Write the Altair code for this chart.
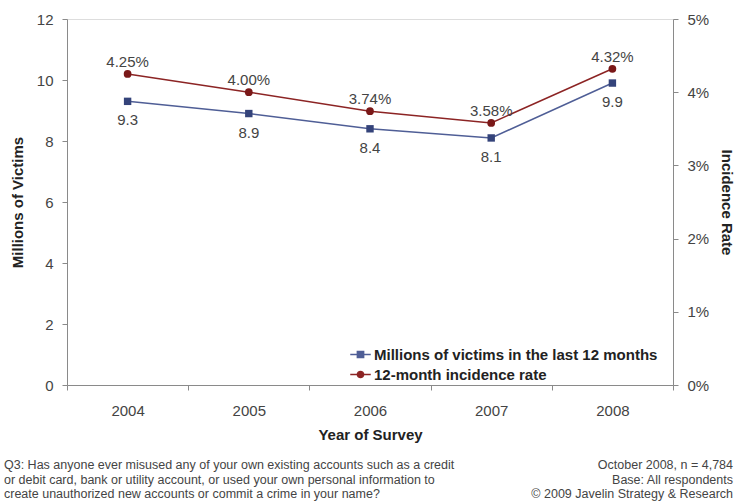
import altair as alt
import pandas as pd

# Survey years and the two series
years = ["2004", "2005", "2006", "2007", "2008"]
victims_millions = [9.3, 8.9, 8.4, 8.1, 9.9]
incidence_rate = [4.25, 4.00, 3.74, 3.58, 4.32]

series_names = ["Millions of victims in the last 12 months", "12-month incidence rate"]
line_colors = ["#4f5e96", "#8c2424"]
marker_colors = ["#34437a", "#7a1818"]

footnote_left = (
    "Q3: Has anyone ever misused any of your own existing accounts such as a credit\n"
    "or debit card, bank or utility account, or used your own personal information to\n"
    "create unauthorized new accounts or commit a crime in your name?"
)
footnote_right = "October 2008, n = 4,784\nBase: All respondents\n\u00a9 2009 Javelin Strategy & Research"

df = pd.DataFrame({
    "year": years,
    "victims": victims_millions,
    "rate": incidence_rate,
})
df["series_v"] = series_names[0]
df["series_r"] = series_names[1]

FONT = "Liberation Sans"
W, H = 606, 366

x_enc = alt.X(
    "year:N",
    sort=years,
    scale=alt.Scale(type="band", paddingInner=0, paddingOuter=0),
    axis=alt.Axis(
        title="Year of Survey", labelAngle=0, tickBand="extent",
        labelFontSize=15, labelColor="#444", labelPadding=13,
        titleFontSize=15, titleFontWeight="bold", titleColor="#222", titlePadding=9,
        domainColor="#8a8a8a", tickColor="#8a8a8a", tickSize=5,
    ),
)

y_left = alt.Y(
    "victims:Q",
    scale=alt.Scale(domain=[0, 12], nice=False),
    axis=alt.Axis(
        title="Millions of Victims", values=[0, 2, 4, 6, 8, 10, 12], grid=False,
        labelFontSize=15, labelColor="#444", labelPadding=9,
        titleFontSize=15, titleFontWeight="bold", titleColor="#222", titlePadding=11,
        domainColor="#8a8a8a", tickColor="#8a8a8a", tickSize=5,
    ),
)

y_right = alt.Y(
    "rate:Q",
    scale=alt.Scale(domain=[0, 5], nice=False),
    axis=alt.Axis(
        title="Incidence Rate", orient="right", values=[0, 1, 2, 3, 4, 5], grid=False,
        labelExpr="datum.value + '%'",
        labelFontSize=15, labelColor="#444", labelPadding=9,
        titleFontSize=15, titleFontWeight="bold", titleColor="#222", titlePadding=10,
        domainColor="#8a8a8a", tickColor="#8a8a8a", tickSize=5,
    ),
)

base = alt.Chart(df)

# Legend symbols: a short line with the series marker in the middle
sq_path = "M-1,0H-0.3M0.3,0H1M-0.3,-0.3H0.3V0.3H-0.3Z"
ci_path = "M-1,0H-0.3M0.3,0H1M0.3,0A0.3,0.3 0 1,1 -0.3,0A0.3,0.3 0 1,1 0.3,0Z"

legend = alt.Legend(
    title=None, orient="none", legendX=282, legendY=324,
    labelFont=FONT, labelFontSize=15, labelFontWeight="bold", labelColor="#222",
    labelLimit=0, symbolSize=420, symbolStrokeWidth=1.6, rowPadding=0, labelOffset=2,
)
ser_domain = alt.Scale(domain=series_names, range=line_colors)

legend_layer = base.transform_filter("datum.victims < 0").mark_point(filled=True, opacity=1).encode(
    x=x_enc,
    y=alt.Y("victims:Q"),
    fill=alt.Fill("series_v:N", scale=ser_domain, legend=legend),
    stroke=alt.Stroke("series_v:N", scale=ser_domain, legend=legend),
    shape=alt.Shape("series_v:N", scale=alt.Scale(domain=series_names, range=[sq_path, ci_path]), legend=legend),
)

victims_layer = alt.layer(
    base.mark_line(color=line_colors[0], strokeWidth=1.5).encode(x=x_enc, y=y_left),
    base.mark_point(shape="square", filled=True, size=55, color=marker_colors[0], opacity=1).encode(x=x_enc, y="victims:Q"),
    base.mark_text(dy=19, font=FONT, fontSize=15, color="#444").encode(
        x=x_enc, y="victims:Q", text=alt.Text("victims:Q", format=".1f")
    ),
    legend_layer,
)

rate_layer = alt.layer(
    base.mark_line(color=line_colors[1], strokeWidth=1.5).encode(x=x_enc, y=y_right),
    base.mark_point(shape="circle", filled=True, size=60, color=marker_colors[1], opacity=1).encode(x=x_enc, y="rate:Q"),
    base.transform_calculate(lbl="format(datum.rate, '.2f') + '%'").mark_text(
        dy=-12, font=FONT, fontSize=15, color="#444"
    ).encode(x=x_enc, y="rate:Q", text="lbl:N"),
)

notes = pd.DataFrame({"left": [footnote_left], "right": [footnote_right]})
foot_left = alt.Chart(notes).mark_text(
    align="left", baseline="top", lineBreak="\n", font=FONT, fontSize=12.5, color="#444", lineHeight=14.5
).encode(x=alt.value(-63), y=alt.value(440), text="left:N")
foot_right = alt.Chart(notes).mark_text(
    align="right", baseline="top", lineBreak="\n", font=FONT, fontSize=12.5, color="#444", lineHeight=14.5
).encode(x=alt.value(666), y=alt.value(440), text="right:N")

chart = alt.layer(victims_layer, rate_layer, foot_left, foot_right).resolve_scale(
    y="independent"
).properties(
    width=W, height=H,
    autosize=alt.AutoSizeParams(type="none"),
    padding={"left": 67, "top": 19, "right": 67, "bottom": 119},
).configure_view(stroke=None).configure_axis(
    labelFont=FONT, titleFont=FONT
).configure(background="white")

chart.save("out.html", embed_options={"renderer": "svg", "actions": False})
